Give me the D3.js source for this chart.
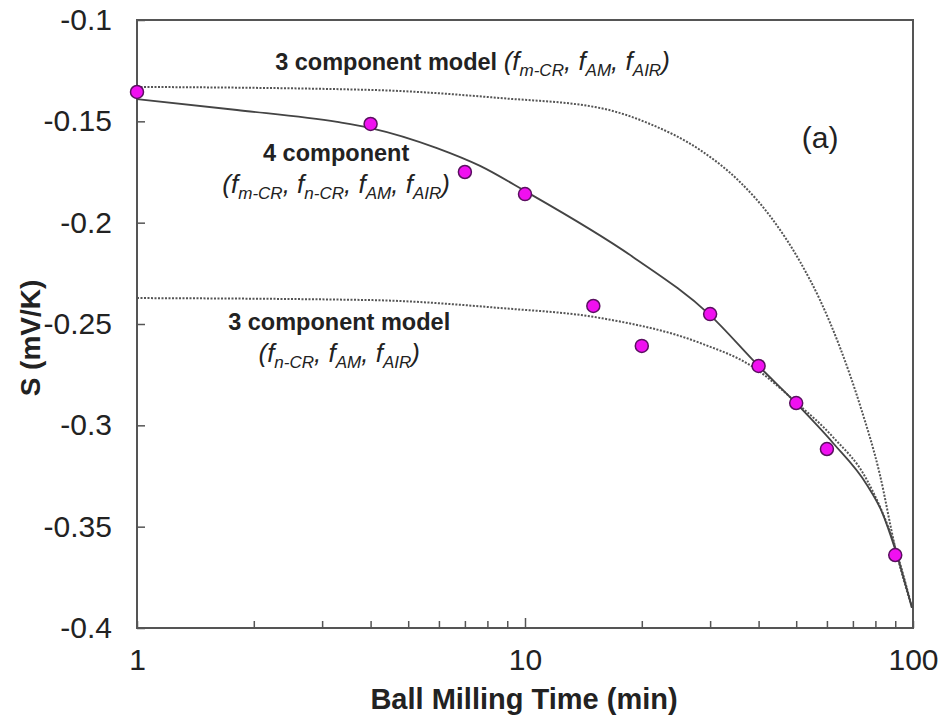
<!DOCTYPE html>
<meta charset="utf-8">
<script src="https://d3js.org/d3.v7.min.js"></script>
<style>
  body { margin: 0; background: #fff; }
  text { font-family: "Liberation Sans", Arial, sans-serif; }
</style>
<div id="my_dataviz"></div>
<script>

// measured points (ball milling time in min, S in mV/K)
var timeMin = [1, 4, 7, 10, 15, 20, 30, 40, 50, 60, 90];
var seebeck = [-0.1355, -0.1513, -0.175, -0.1859, -0.2411, -0.2608, -0.2451, -0.2707, -0.289, -0.3117, -0.364];

// 4 component model (solid)
var fourX = [1, 1.81, 3.28, 4, 5.93, 7.66, 10, 18.97, 29.8, 40, 49.9, 62.2, 76.1, 83.2, 89.9, 99.4];
var fourY = [-0.139, -0.1444, -0.1503, -0.1533, -0.1632, -0.172, -0.1844, -0.2169, -0.2451, -0.2707, -0.289, -0.3087, -0.3294, -0.3428, -0.361, -0.39];

// 3 component model with m-CR (upper dotted)
var mcrX = [1, 4, 8.62, 15.6, 21.0, 28.25, 35.8, 42.8, 51.2, 57.6, 64.9, 73.0, 82.2, 89.9, 99.4];
var mcrY = [-0.133, -0.1345, -0.1385, -0.1434, -0.1513, -0.1641, -0.1799, -0.1967, -0.2194, -0.2382, -0.2618, -0.29, -0.3245, -0.36, -0.39];

// 3 component model with n-CR (lower dotted)
var ncrX = [1, 4, 8.62, 15.6, 28.3, 38.7, 50.2, 62.2, 76.1, 89.9, 99.4];
var ncrY = [-0.2372, -0.2382, -0.2421, -0.247, -0.2594, -0.2712, -0.289, -0.3058, -0.327, -0.36, -0.39];

var yTicks = [-0.4, -0.35, -0.3, -0.25, -0.2, -0.15, -0.1];
var yTickLabels = ["-0.4", "-0.35", "-0.3", "-0.25", "-0.2", "-0.15", "-0.1"];
var xTicks = [1, 2, 3, 4, 5, 6, 7, 8, 9, 10, 20, 30, 40, 50, 60, 70, 80, 90, 100];
var xTickLabels = {1: "1", 10: "10", 100: "100"};

var width = 940, height = 717;

var svg = d3.select("#my_dataviz")
  .append("svg")
    .attr("width", width)
    .attr("height", height);

var x = d3.scaleLog().domain([1, 100]).range([137, 913]);
var y = d3.scaleLinear().domain([-0.4, -0.1]).range([628, 20]);

// frame
svg.append("rect")
  .attr("x", x(1)).attr("y", y(-0.1))
  .attr("width", x(100) - x(1)).attr("height", y(-0.4) - y(-0.1))
  .style("fill", "none").style("stroke", "#555").style("stroke-width", 2);

// y axis, ticks pointing inward
var yAxis = svg.append("g")
  .attr("transform", "translate(" + x(1) + ",0)")
  .call(d3.axisLeft(y).tickValues(yTicks)
    .tickFormat(function(d, i) { return yTickLabels[i]; })
    .tickSizeInner(-8).tickSizeOuter(0).tickPadding(25));
yAxis.select(".domain").remove();
yAxis.selectAll("line").style("stroke", "#555").style("stroke-width", 1.5);
yAxis.selectAll("text").style("font-size", "30px").style("fill", "#222")
  .style("font-family", "'Liberation Sans', Arial, sans-serif");

// x axis (log), minor ticks inward
var xAxis = svg.append("g")
  .attr("transform", "translate(0," + y(-0.4) + ")")
  .call(d3.axisBottom(x).tickValues(xTicks)
    .tickFormat(function(d) { return xTickLabels[d] || ""; })
    .tickSizeInner(-7).tickSizeOuter(0).tickPadding(21));
xAxis.select(".domain").remove();
xAxis.selectAll("line").style("stroke", "#555").style("stroke-width", 1.5)
  .attr("y2", function(d) { return d === 10 ? -10 : -7; });
xAxis.selectAll("text").style("font-size", "30px").style("fill", "#222")
  .style("font-family", "'Liberation Sans', Arial, sans-serif");

// axis titles
svg.append("text")
  .attr("x", 524).attr("y", 709)
  .attr("text-anchor", "middle")
  .style("font-size", "29px").style("font-weight", "bold").style("fill", "#222")
  .text("Ball Milling Time (min)");

svg.append("text")
  .attr("transform", "translate(40,338) rotate(-90)")
  .attr("text-anchor", "middle")
  .style("font-size", "28px").style("font-weight", "bold").style("fill", "#222")
  .text("S (mV/K)");

// model curves
var line = d3.line()
  .x(function(d) { return x(d[0]); })
  .y(function(d) { return y(d[1]); })
  .curve(d3.curveMonotoneX);

function pairs(xs, ys) { return xs.map(function(v, i) { return [v, ys[i]]; }); }

svg.append("path").datum(pairs(mcrX, mcrY))
  .attr("d", line)
  .style("fill", "none").style("stroke", "#555").style("stroke-width", 2)
  .style("stroke-dasharray", "2,1.5");

svg.append("path").datum(pairs(ncrX, ncrY))
  .attr("d", line)
  .style("fill", "none").style("stroke", "#555").style("stroke-width", 2)
  .style("stroke-dasharray", "2,1.5");

svg.append("path").datum(pairs(fourX, fourY))
  .attr("d", line)
  .style("fill", "none").style("stroke", "#444").style("stroke-width", 1.8);

// measured points
svg.selectAll(".pt")
  .data(pairs(timeMin, seebeck))
  .enter()
  .append("circle")
    .attr("class", "pt")
    .attr("cx", function(d) { return x(d[0]); })
    .attr("cy", function(d) { return y(d[1]); })
    .attr("r", 6.5)
    .style("fill", "#f010f0")
    .style("stroke", "#5a1060")
    .style("stroke-width", 1.5);

// annotation: parts are [text, kind], kind b = bold, i = italic, s = italic subscript
function label(px, py, anchor, parts) {
  var t = svg.append("text")
    .attr("x", px).attr("y", py)
    .attr("text-anchor", anchor)
    .style("fill", "#222");
  var low = false;
  parts.forEach(function(p) {
    var s = t.append("tspan").text(p[0]);
    if (p[1] === "b") s.style("font-size", "23.5px").style("font-weight", "bold");
    if (p[1] === "i") s.style("font-size", "26px").style("font-style", "italic");
    if (p[1] === "s") {
      s.style("font-size", "17px").style("font-style", "italic").attr("dy", low ? 0 : 6);
      low = true;
    } else {
      s.attr("dy", low ? -6 : 0);
      low = false;
    }
  });
  return t;
}

label(x(2.27), y(-0.1247), "start", [
  ["3 component model ", "b"], ["(", "i"], ["f", "i"], ["m-CR", "s"], [", ", "i"],
  ["f", "i"], ["AM", "s"], [", ", "i"], ["f", "i"], ["AIR", "s"], [")", "i"]
]);

label(x(3.26), y(-0.1696), "middle", [["4 component", "b"]]);
label(x(3.26), y(-0.1854), "middle", [
  ["(", "i"], ["f", "i"], ["m-CR", "s"], [", ", "i"], ["f", "i"], ["n-CR", "s"], [", ", "i"],
  ["f", "i"], ["AM", "s"], [", ", "i"], ["f", "i"], ["AIR", "s"], [")", "i"]
]);

label(x(3.32), y(-0.253), "middle", [["3 component model", "b"]]);
label(x(3.32), y(-0.2687), "middle", [
  ["(", "i"], ["f", "i"], ["n-CR", "s"], [", ", "i"],
  ["f", "i"], ["AM", "s"], [", ", "i"], ["f", "i"], ["AIR", "s"], [")", "i"]
]);

svg.append("text")
  .attr("x", x(57.6)).attr("y", y(-0.1632))
  .attr("text-anchor", "middle")
  .style("font-size", "30px").style("fill", "#222")
  .text("(a)");

</script>
